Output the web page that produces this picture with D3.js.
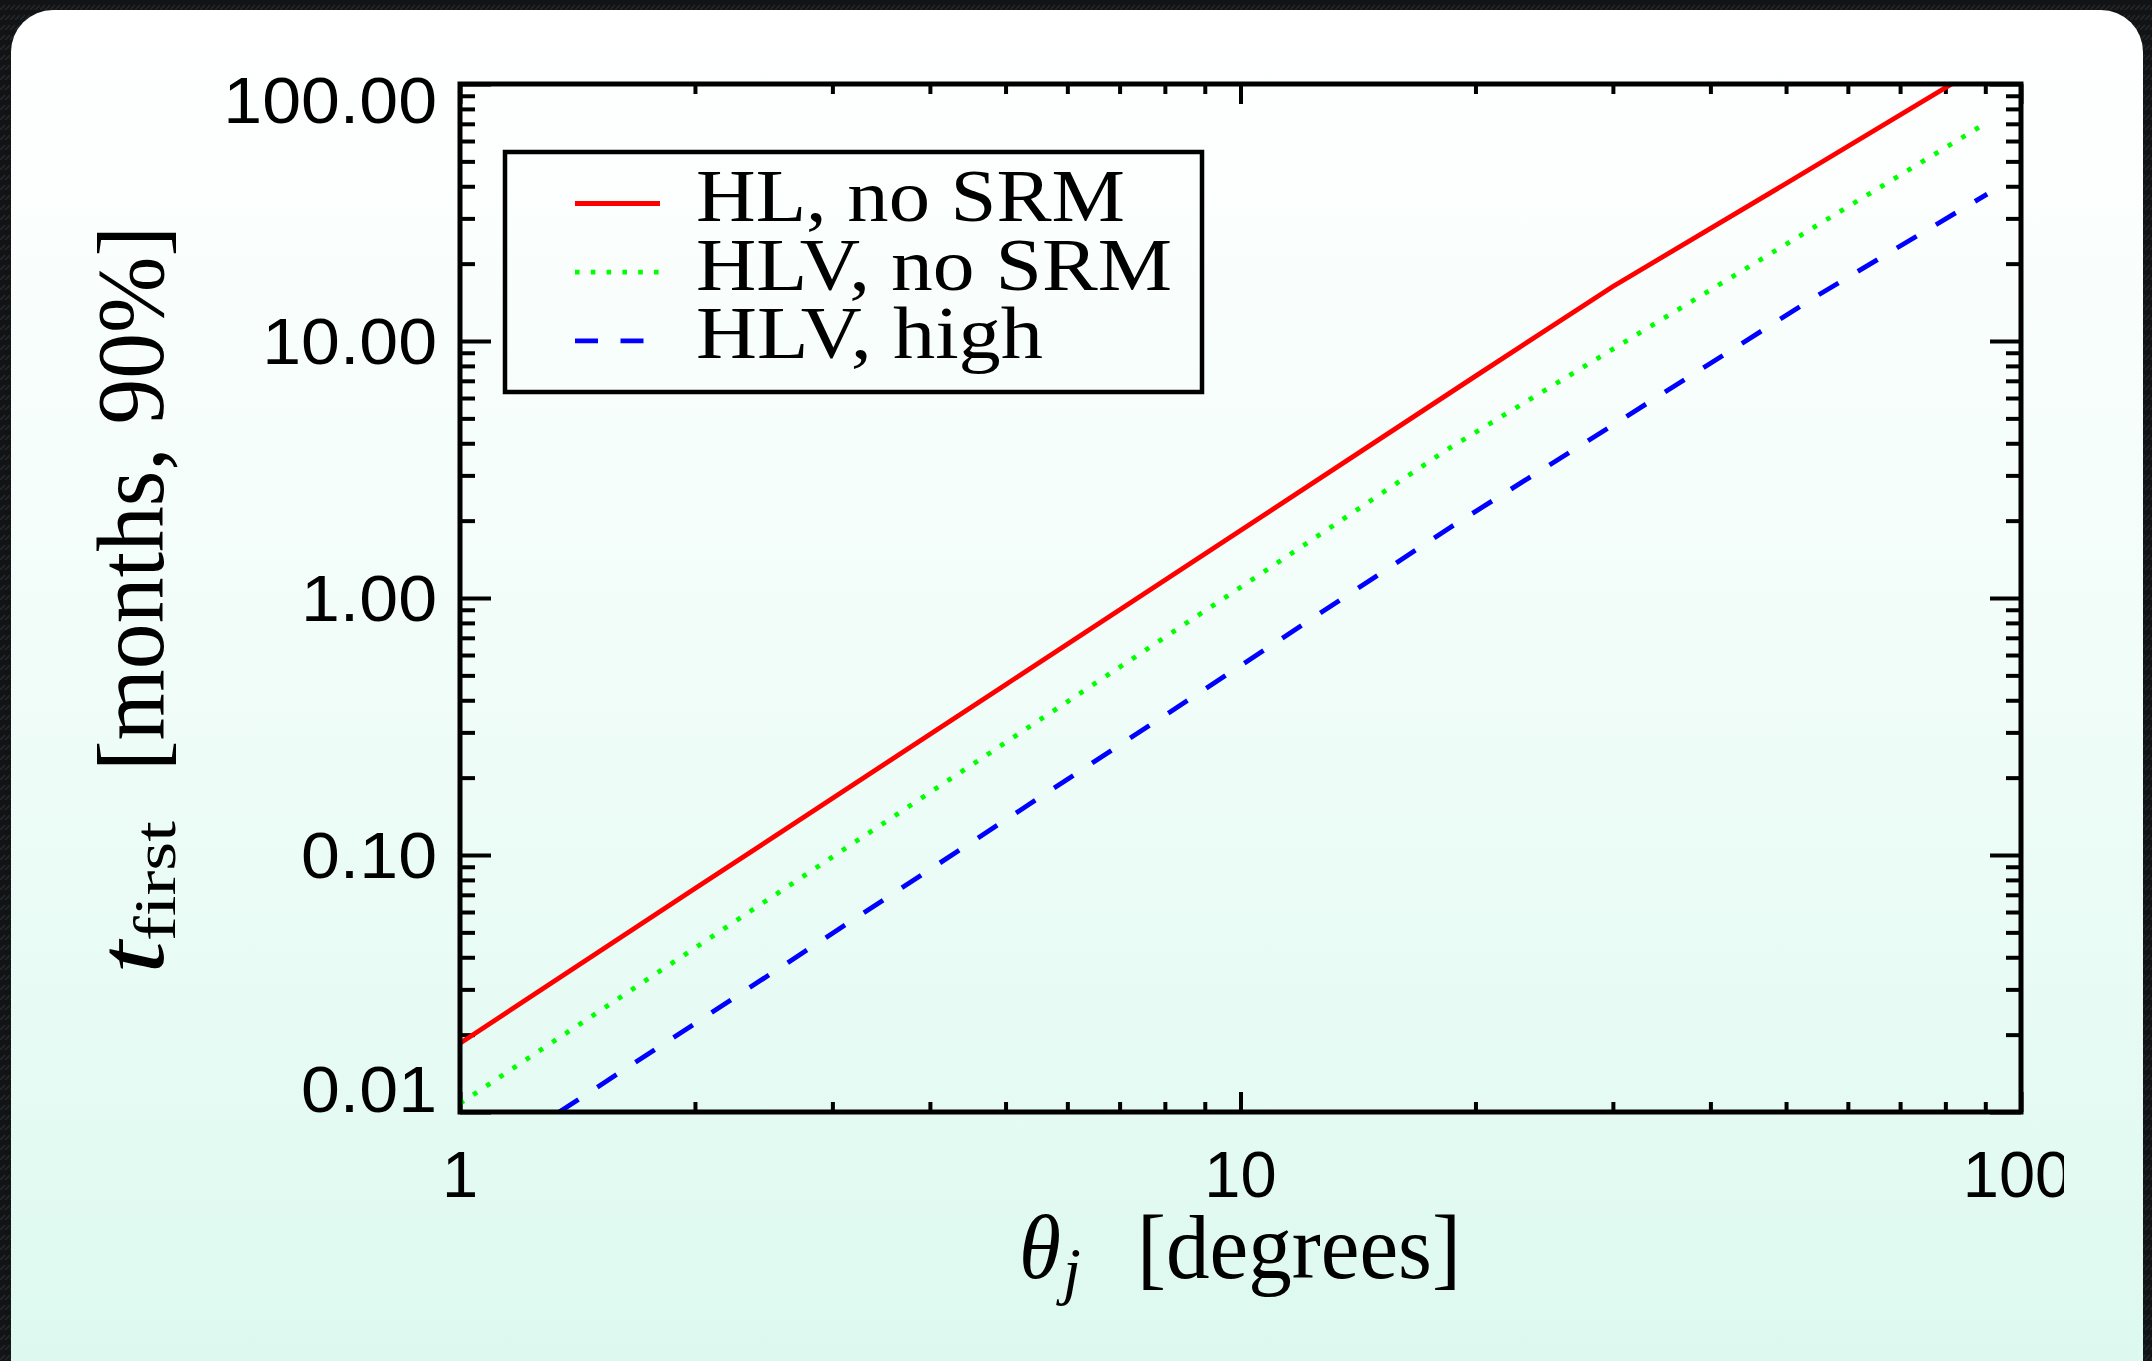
<!DOCTYPE html>
<html><head><meta charset="utf-8">
<script src="https://cdn.jsdelivr.net/npm/d3@7"></script>
<style>html,body{margin:0;padding:0;background:#121416;overflow:hidden}</style>
</head><body>
<svg id="c" width="2152" height="1361"></svg>
<script>
// ---- data ----
const seriesNames = ["HL, no SRM", "HLV, no SRM", "HLV, high"];
const thetaHL   = [1, 2, 5, 10, 20, 30, 50, 81.5];
const tHL       = [0.0185, 0.074, 0.46, 1.83, 7.3, 16.3, 41, 100];
const thetaHLV  = [1, 2, 5, 10, 18.5, 30, 50, 90.5];
const tHLV      = [0.0108, 0.0435, 0.274, 1.10, 3.82, 9.3, 23.8, 70.9];
const thetaHigh = [1.34, 2, 5, 10, 18.5, 30, 55, 90.5];
const tHigh     = [0.01, 0.0221, 0.137, 0.545, 1.87, 4.71, 15.1, 37.3];
const xMajor = [1, 10, 100];
const xMajorLabels = ["1", "10", "100"];
const xMinor = [2,3,4,5,6,7,8,9,20,30,40,50,60,70,80,90];
const yMajor = [0.01, 0.1, 1, 10, 100];
const yMajorLabels = ["0.01", "0.10", "1.00", "10.00", "100.00"];
const yMinor = [0.02,0.03,0.04,0.05,0.06,0.07,0.08,0.09,0.2,0.3,0.4,0.5,0.6,0.7,0.8,0.9,2,3,4,5,6,7,8,9,20,30,40,50,60,70,80,90];

// ---- layout ----
const P = {left: 460, right: 2021, top: 84, bottom: 1112};
const svg = d3.select("#c");
const defs = svg.append("defs");

const pat = defs.append("pattern").attr("id","tex").attr("width",10).attr("height",10)
  .attr("patternUnits","userSpaceOnUse");
pat.append("rect").attr("width",10).attr("height",10).attr("fill","#111315");
pat.append("path").attr("d","M0 10 L5 5 M5 10 L10 5").attr("stroke","#23272a").attr("stroke-width",1.6);

const grad = defs.append("linearGradient").attr("id","card").attr("gradientUnits","userSpaceOnUse")
  .attr("x1",0).attr("y1",10).attr("x2",0).attr("y2",1361);
grad.append("stop").attr("offset","0").attr("stop-color","#ffffff");
grad.append("stop").attr("offset","0.45").attr("stop-color","#f2fdf9");
grad.append("stop").attr("offset","1").attr("stop-color","#ddf9ef");

defs.append("clipPath").attr("id","plotclip").append("rect")
  .attr("x",P.left).attr("y",P.top).attr("width",P.right-P.left).attr("height",P.bottom-P.top);
defs.append("clipPath").attr("id","labclip").append("rect")
  .attr("x",0).attr("y",0).attr("width",2064).attr("height",1361);

svg.append("rect").attr("width",2152).attr("height",1361).attr("fill","url(#tex)");
svg.append("rect").attr("x",11).attr("y",10).attr("width",2132).attr("height",1400).attr("rx",42)
  .attr("fill","url(#card)");

const x = d3.scaleLog().domain([1,100]).range([P.left, P.right]);
const y = d3.scaleLog().domain([0.01,100]).range([P.bottom, P.top]);

// ---- ticks ----
function tickAxis(axis, tr) {
  const g = svg.append("g").attr("transform", tr).call(axis);
  g.select(".domain").remove();
  g.selectAll(".tick text").remove();
  g.selectAll(".tick line").attr("stroke","#000").attr("stroke-width",4);
}
tickAxis(d3.axisBottom(x).tickValues(xMajor).tickSize(-20).tickFormat(""), `translate(0,${P.bottom})`);
tickAxis(d3.axisBottom(x).tickValues(xMinor).tickSize(-10).tickFormat(""), `translate(0,${P.bottom})`);
tickAxis(d3.axisTop(x).tickValues(xMajor).tickSize(-20).tickFormat(""), `translate(0,${P.top})`);
tickAxis(d3.axisTop(x).tickValues(xMinor).tickSize(-10).tickFormat(""), `translate(0,${P.top})`);
tickAxis(d3.axisLeft(y).tickValues(yMajor).tickSize(-31).tickFormat(""), `translate(${P.left},0)`);
tickAxis(d3.axisLeft(y).tickValues(yMinor).tickSize(-15).tickFormat(""), `translate(${P.left},0)`);
tickAxis(d3.axisRight(y).tickValues(yMajor).tickSize(-31).tickFormat(""), `translate(${P.right},0)`);
tickAxis(d3.axisRight(y).tickValues(yMinor).tickSize(-15).tickFormat(""), `translate(${P.right},0)`);

// ---- series ----
const line = d3.line().x(d => x(d[0])).y(d => y(d[1]));
const series = [
  {name: seriesNames[0], pts: d3.zip(thetaHL, tHL), color: "#ff0000", dash: null},
  {name: seriesNames[1], pts: d3.zip(thetaHLV, tHLV), color: "#00ff00", dash: "4.6,11.2"},
  {name: seriesNames[2], pts: d3.zip(thetaHigh, tHigh), color: "#0000ff", dash: "23,22.5"}
];
const lg = svg.append("g").attr("clip-path","url(#plotclip)");
series.forEach(s => {
  lg.append("path").attr("d", line(s.pts)).attr("fill","none")
    .attr("stroke", s.color).attr("stroke-width", 4.8)
    .attr("stroke-dasharray", s.dash).attr("stroke-linecap","butt");
});

// frame
svg.append("rect").attr("x",P.left).attr("y",P.top).attr("width",P.right-P.left).attr("height",P.bottom-P.top)
  .attr("fill","none").attr("stroke","#000").attr("stroke-width",5);

// ---- tick labels ----
const sans = "'Liberation Sans', Arial, Helvetica, sans-serif";
const xl = svg.append("g").attr("clip-path","url(#labclip)");
xMajor.forEach((v,i) => {
  xl.append("text").attr("x", x(v) - (i===2 ? 4 : 0)).attr("y", 1197)
    .attr("text-anchor","middle").attr("font-family",sans).attr("font-size",65).attr("fill","#000")
    .text(xMajorLabels[i]);
});
yMajor.forEach((v,i) => {
  let by = y(v) + 23;
  if (i === yMajor.length-1) by = y(v) + 39;
  if (i === 0) by = y(v);
  svg.append("text").attr("transform", `translate(437,${by}) scale(1.075,1)`)
    .attr("text-anchor","end").attr("font-family",sans).attr("font-size",65).attr("fill","#000")
    .text(yMajorLabels[i]);
});

// ---- axis titles ----
const serif = "'Liberation Serif', 'DejaVu Serif', serif";
svg.append("text").attr("x",1019).attr("y",1278).attr("font-family",serif).attr("font-style","italic")
  .attr("font-size",92).attr("textLength",42).attr("lengthAdjust","spacingAndGlyphs").text("θ");
svg.append("text").attr("x",1063).attr("y",1292).attr("font-family",serif).attr("font-style","italic")
  .attr("font-size",64).text("j");
svg.append("text").attr("x",1137).attr("y",1278).attr("font-family",serif)
  .attr("font-size",90).attr("textLength",324).attr("lengthAdjust","spacingAndGlyphs").text("[degrees]");

const yt = svg.append("g").attr("transform","rotate(-90)");
yt.append("text").attr("x",-974).attr("y",163).attr("font-family",serif).attr("font-style","italic")
  .attr("font-size",95).attr("textLength",33).attr("lengthAdjust","spacingAndGlyphs").text("t");
yt.append("text").attr("x",-941).attr("y",175).attr("font-family",serif)
  .attr("font-size",60).attr("textLength",120).attr("lengthAdjust","spacingAndGlyphs").text("first");
yt.append("text").attr("x",-771).attr("y",163).attr("font-family",serif)
  .attr("font-size",95).attr("textLength",545).attr("lengthAdjust","spacingAndGlyphs").text("[months, 90%]");

// ---- legend ----
svg.append("rect").attr("x",505).attr("y",152).attr("width",697).attr("height",240)
  .attr("fill","none").attr("stroke","#000").attr("stroke-width",4.5);
const legW = [429, 476, 347];
series.forEach((s,i) => {
  const base = 221 + i*68.7;
  svg.append("line").attr("x1",575).attr("x2",660).attr("y1",base-17.5).attr("y2",base-17.5)
    .attr("stroke",s.color).attr("stroke-width",4.8).attr("stroke-dasharray",s.dash);
  svg.append("text").attr("x",696).attr("y",base).attr("font-family",serif).attr("font-size",74)
    .attr("textLength",legW[i]).attr("lengthAdjust","spacingAndGlyphs").attr("fill","#000").text(s.name);
});
</script>
</body></html>
